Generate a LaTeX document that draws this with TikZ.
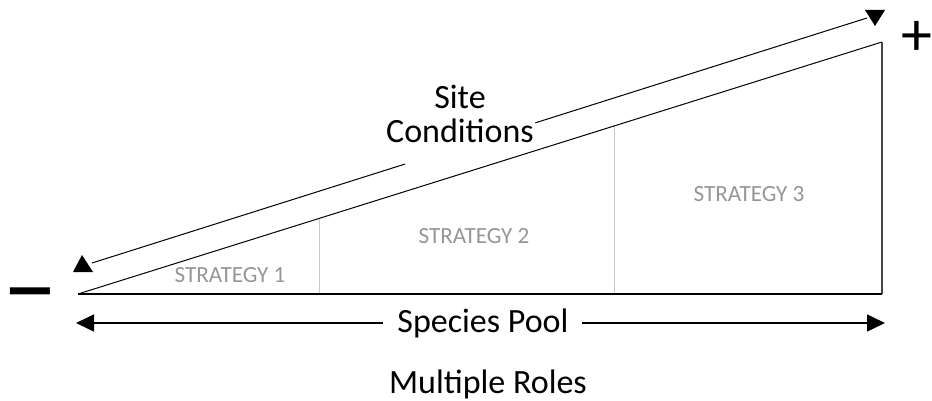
\documentclass[tikz,border=0pt]{standalone}
\usepackage{fontspec}
\setmainfont{Carlito}
\usetikzlibrary{arrows.meta,calc}
\definecolor{stratcolor}{RGB}{150,150,150}
\definecolor{dividecolor}{RGB}{200,200,200}
\definecolor{edgecolor}{RGB}{70,70,70}

\begin{document}
\begin{tikzpicture}[x=0.5pt, y=-0.5pt,
    every node/.style={font=\fontsize{17}{17}\selectfont},
    strat/.style={text=stratcolor, font=\fontsize{11.6}{13}\selectfont},
    poolarrow/.style={>={Triangle[length=9pt, width=8.5pt]}, <->, line width=0.75pt}]
    \useasboundingbox (0,0) rectangle (932,401);
    % wedge corners
    \coordinate (lo) at (78,294);
    \coordinate (br) at (882,294);
    \coordinate (tr) at (882,42);
    % divider feet and tops
    \coordinate (d1b) at (319,294);
    \coordinate (d1t) at (319,218.5);
    \coordinate (d2b) at (614,294);
    \coordinate (d2t) at (614,126);
    % dividers
    \draw[dividecolor, line width=0.5pt] (d1b) -- (d1t);
    \draw[dividecolor, line width=0.5pt] (d2b) -- (d2t);
    % wedge
    \draw[line width=0.5pt] (lo) -- (tr);
    \draw[edgecolor, line width=1pt] (br) -- (tr);
    \draw[line width=1pt] (lo) -- (br);
    % strategy labels
    \node[strat] (s1) at (230,275) {STRATEGY 1};
    \node[strat] (s2) at (474,236) {STRATEGY 2};
    \node[strat] (s3) at (749,194) {STRATEGY 3};
    % site conditions arrow, broken round its label
    \coordinate (sa) at (92,263);
    \coordinate (sb) at (867,18);
    \draw[line width=0.5pt] (sa) -- ($(sa)!0.404!(sb)$);
    \draw[line width=0.5pt] ($(sa)!0.572!(sb)$) -- (sb);
    \fill (865,10) -- (885,10) -- (875,26) -- cycle;
    \fill (73,272) -- (93,272) -- (82,255) -- cycle;
    \node[align=center] (site) at (460,114) {Site\\Conditions};
    % ends of the scale
    \node[font=\fontsize{56}{56}\selectfont] (minus) at (30,305) {–};
    \node[font=\fontsize{31}{31}\selectfont] (plus) at (917,38) {+};
    % species pool
    \coordinate (p1) at (76,323);
    \coordinate (p2) at (885,323);
    \draw[poolarrow] (p1) -- node[pos=0.503, fill=white, inner xsep=7pt] (pool) {Species Pool} (p2);
    \node (roles) at (488,384) {Multiple Roles};
\end{tikzpicture}
\end{document}
